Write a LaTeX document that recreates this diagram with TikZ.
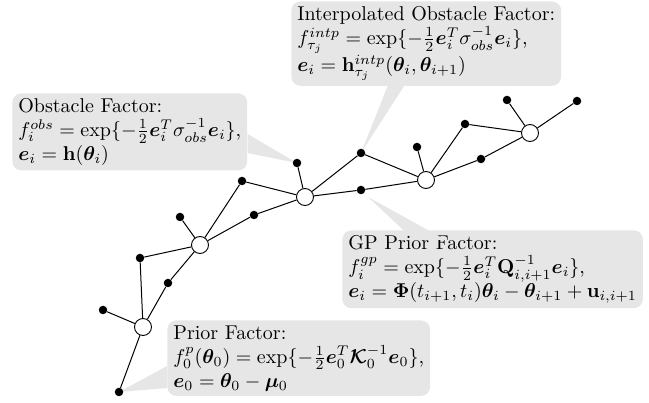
\documentclass[tikz,border=0pt]{standalone}
\usepackage{amsmath}
\usepackage{bm}
\definecolor{boxgray}{RGB}{230,230,230}
\tikzset{
  state/.style={circle,draw,fill=white,line width=0.9pt,minimum size=17pt,inner sep=0pt},
  fdot/.style={circle,fill=black,minimum size=8.5pt,inner sep=0pt},
  edge/.style={line width=1pt},
  callout/.style={fill=boxgray,rounded corners=9pt,align=left,anchor=north west,inner xsep=3pt,inner ysep=2.5pt,
    scale=2,transform shape},
  pointer/.style={fill=boxgray}
}
\begin{document}
\begin{tikzpicture}[x=1pt,y=-1pt]
\useasboundingbox (0,0) rectangle (649,403);
% callout boxes
\node[callout] (bint) at (291,1) {Interpolated Obstacle Factor:\\
$f^{intp}_{\tau_j}=\exp\{-\frac{1}{2}\bm{e}_i^T\sigma_{obs}^{-1}\bm{e}_i\}$,\\
$\bm{e}_i=\mathbf{h}^{intp}_{\tau_j}(\bm{\theta}_i,\bm{\theta}_{i+1})$};
\node[callout] (bobs) at (12,93) {Obstacle Factor:\\
$f^{obs}_{i}=\exp\{-\frac{1}{2}\bm{e}_i^T\sigma_{obs}^{-1}\bm{e}_i\}$,\\
$\bm{e}_i=\mathbf{h}(\bm{\theta}_i)$};
\node[callout] (bgp) at (342,230) {GP Prior Factor:\\
$f^{gp}_{i}=\exp\{-\frac{1}{2}\bm{e}_i^T\mathbf{Q}_{i,i+1}^{-1}\bm{e}_i\}$,\\
$\bm{e}_i=\bm{\Phi}(t_{i+1},t_i)\bm{\theta}_i-\bm{\theta}_{i+1}+\mathbf{u}_{i,i+1}$};
\node[callout] (bpr) at (167,320) {Prior Factor:\\
$f^{p}_{0}(\bm{\theta}_0)=\exp\{-\frac{1}{2}\bm{e}_0^T\bm{\mathcal{K}}_0^{-1}\bm{e}_0\}$,\\
$\bm{e}_0=\bm{\theta}_0-\bm{\mu}_0$};
% pointer targets
\coordinate (tI23) at (361,153);
\coordinate (tO2) at (297,163);
\coordinate (tG23) at (368,197);
\coordinate (tP) at (119,392);
% pointers
\fill[pointer] (390,80) -- (tI23) -- (408,80) -- cycle;
\fill[pointer] (bobs.east |- 0,134) -- (tO2) -- (bobs.east |- 0,153) -- cycle;
\fill[pointer] (414,240) -- (tG23) -- (446,240) -- cycle;
\fill[pointer] (bpr.west |- 0,366) -- (tP) -- (bpr.west |- 0,388) -- cycle;
% graph nodes
\node[fdot] (P) at (tP) {};
\node[fdot] (O0) at (103,310) {};
\node[fdot] (G01) at (168,283) {};
\node[fdot] (I01) at (140,258) {};
\node[fdot] (O1) at (180,217) {};
\node[fdot] (I12) at (242,181) {};
\node[fdot] (G12) at (254,215) {};
\node[fdot] (O2) at (tO2) {};
\node[fdot] (I23) at (tI23) {};
\node[fdot] (G23) at (361,190) {};
\node[fdot] (O3) at (417,147) {};
\node[fdot] (I34) at (465,124) {};
\node[fdot] (G34) at (481,159) {};
\node[fdot] (O4) at (507,100) {};
\node[fdot] (G45) at (577,101) {};
% states
\node[state] (S0) at (143,327) {};
\node[state] (S1) at (200,245) {};
\node[state] (S2) at (305,197) {};
\node[state] (S3) at (426,180) {};
\node[state] (S4) at (530,133) {};
% edges
\draw[edge] (P) -- (S0);
\draw[edge] (O0) -- (S0);
\draw[edge] (S0) -- (G01) -- (S1);
\draw[edge] (S0) -- (I01) -- (S1);
\draw[edge] (O1) -- (S1);
\draw[edge] (S1) -- (I12) -- (S2);
\draw[edge] (S1) -- (G12) -- (S2);
\draw[edge] (O2) -- (S2);
\draw[edge] (S2) -- (I23) -- (S3);
\draw[edge] (S2) -- (G23) -- (S3);
\draw[edge] (O3) -- (S3);
\draw[edge] (S3) -- (I34) -- (S4);
\draw[edge] (S3) -- (G34) -- (S4);
\draw[edge] (O4) -- (S4);
\draw[edge] (S4) -- (G45);
\end{tikzpicture}
\end{document}
